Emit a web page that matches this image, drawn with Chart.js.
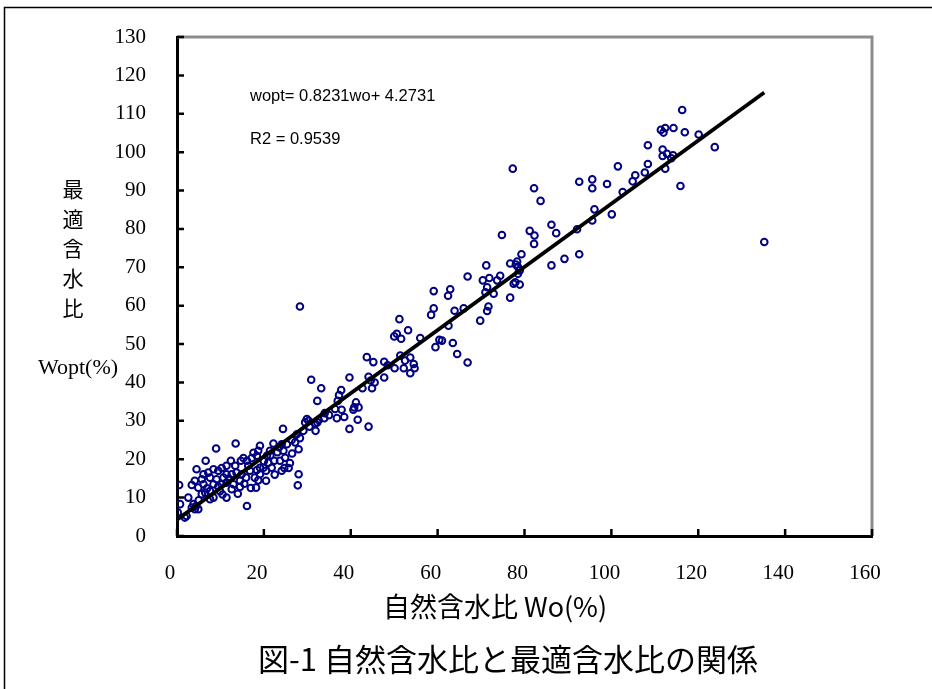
<!DOCTYPE html>
<html>
<head>
<meta charset="utf-8">
<script src="https://cdn.jsdelivr.net/npm/chart.js@4"></script>
<style>
  body { margin: 0; background: #fff; }
  #box { position: relative; width: 932px; height: 689px; }
</style>
</head>
<body>
<div id="box"><canvas id="myChart" width="932" height="689"></canvas></div>
<script>
// natural water content Wo(%) / optimum water content Wopt(%)
const woValues = [
  116.3,111.4,112.0,112.4,114.3,116.9,120.1,123.8,108.4,111.8,112.8,111.8,114.2,113.8,112.4,115.9,
  108.4,107.7,105.5,104.9,101.5,99.0,102.6,92.6,95.6,95.6,96.1,100.1,95.6,92.1,92.6,89.2,
  86.2,87.3,86.2,83.7,82.2,77.3,81.2,82.3,82.2,74.8,79.3,76.7,78.3,78.5,78.9,71.2,
  74.4,71.9,70.4,73.7,77.9,78.9,77.5,71.4,72.9,71.0,76.7,71.7,135.2,78.0,78.5,66.9,
  71.4,69.8,59.1,62.9,62.4,59.1,58.5,63.9,66.0,62.5,61.0,59.5,63.5,64.5,66.9,51.2,
  53.2,50.0,50.6,51.6,56.0,60.4,47.7,51.4,53.7,52.5,54.5,54.7,50.1,52.2,53.7,47.7,
  43.7,45.2,28.3,39.7,30.9,33.2,44.1,44.6,42.7,44.9,32.3,37.8,37.3,37.0,36.4,37.9,
  36.8,41.2,40.8,41.8,40.6,41.6,39.7,44.1,33.9,32.3,31.9,29.9,29.5,30.3,24.4,31.8,
  32.6,29.1,27.6,28.3,26.4,25.3,27.2,28.0,24.1,23.5,23.1,24.5,24.9,22.4,23.7,24.7,
  25.7,24.1,28.0,27.8,22.2,21.4,20.7,19.1,18.7,18.4,17.6,17.2,16.1,15.3,16.4,21.0,
  21.8,20.5,19.9,19.1,18.4,19.1,17.9,18.7,20.5,18.2,16.8,15.9,14.9,13.7,14.5,13.5,
  9.0,6.6,4.5,12.4,14.7,11.4,13.4,10.3,8.4,9.5,7.2,6.1,11.4,12.6,10.7,9.1,
  7.6,5.7,4.1,6.1,8.4,10.3,11.4,13.0,14.5,12.6,9.9,7.6,6.5,4.9,3.4,5.7,
  7.6,8.4,11.4,16.1,0.5,0.7,0.2,1.8,2.2,2.6,3.4,4.1,3.8,4.9,4.4,6.9,
  9.5,12.0,15.5,17.0,14.0,10.5,5.0,22.5,26.0,26.5,20.0,21.5,30.5,35.0,34.0,38.5,
  45.5,48.5
];
const woptValues = [
  111.0,105.8,105.1,106.3,106.3,105.2,104.6,101.3,101.8,100.7,99.6,99.0,99.2,98.4,95.7,91.2,
  96.9,94.7,94.0,92.4,96.3,91.7,89.6,92.3,92.9,90.6,85.1,83.8,82.2,79.9,73.4,72.2,
  70.5,78.9,81.1,87.3,90.6,95.7,79.5,78.3,76.1,78.4,73.4,71.0,71.5,70.1,69.2,70.5,
  67.8,67.2,66.6,66.6,66.1,65.5,65.7,64.8,63.1,63.5,62.1,59.8,76.6,70.7,68.3,67.6,
  58.6,56.1,63.8,64.3,62.6,59.3,57.6,58.7,59.3,54.8,50.9,49.2,50.3,47.4,45.2,56.5,
  53.6,52.0,52.7,51.4,51.6,51.1,45.4,47.0,46.5,45.7,44.8,43.7,43.7,43.7,42.4,41.3,
  46.6,45.3,59.8,41.3,40.7,38.5,41.5,40.5,38.5,38.5,35.2,38.0,36.7,35.2,33.1,32.9,
  30.7,34.8,33.5,33.5,32.9,30.3,27.9,28.5,30.7,29.6,27.4,30.5,29.6,30.0,27.9,29.3,
  30.2,27.4,26.5,25.5,25.0,23.9,24.4,22.6,23.9,23.1,21.8,22.2,20.4,19.6,19.6,17.7,
  17.7,17.0,16.1,13.2,24.1,22.2,20.9,23.5,22.2,20.9,21.7,20.3,19.6,20.3,18.3,19.1,
  17.8,17.0,17.8,17.8,17.2,16.1,15.2,14.5,14.4,12.6,17.0,15.2,16.1,16.5,14.4,24.1,
  22.8,19.6,17.4,19.6,19.6,18.3,18.3,17.7,17.4,17.0,16.5,16.1,16.1,16.1,15.2,14.8,
  15.2,14.8,14.4,13.5,13.5,13.5,13.9,13.5,12.8,12.2,11.7,11.7,11.3,12.6,13.3,10.9,
  9.6,10.0,10.0,7.8,13.3,8.3,6.1,4.8,5.2,10.0,7.4,7.0,8.3,7.0,7.8,12.4,
  12.9,14.9,13.6,12.5,11.0,10.8,9.3,16.0,19.0,21.5,19.5,21.0,28.5,31.5,32.0,31.0,
  40.0,44.5
];

const xTicks = [0, 20, 40, 60, 80, 100, 120, 140, 160];
const yTicks = [0, 10, 20, 30, 40, 50, 60, 70, 80, 90, 100, 110, 120, 130];

const slope = 0.8231;
const intercept = 4.2731;
const r2 = 0.9539;

const yTitleChars = ['最', '適', '含', '水', '比'];
const yTitleUnit = 'Wopt(%)';
const xTitle = '自然含水比 Wo(%)';
const caption = '図-1 自然含水比と最適含水比の関係';

function buildPoints(xs, ys) {
  return xs.map((x, i) => ({ x: x, y: ys[i] }));
}

function trendLine(xs) {
  const xMax = Math.max(...xs);
  return [
    { x: 0, y: intercept },
    { x: xMax, y: slope * xMax + intercept }
  ];
}

const decorPlugin = {
  id: 'decor',
  beforeDatasetsDraw(chart) {
    const ctx = chart.ctx;
    const a = chart.chartArea;
    const xs = chart.scales.x;
    const ys = chart.scales.y;
    ctx.save();
    // grey top/right frame of plot area
    ctx.strokeStyle = '#8c8c8c';
    ctx.lineWidth = 3;
    ctx.beginPath();
    ctx.moveTo(a.left, a.top);
    ctx.lineTo(a.right, a.top);
    ctx.lineTo(a.right, a.bottom);
    ctx.stroke();
    // inward ticks
    ctx.strokeStyle = '#000';
    ctx.lineWidth = 2.5;
    ctx.beginPath();
    xTicks.forEach(v => {
      const px = xs.getPixelForValue(v);
      ctx.moveTo(px, a.bottom);
      ctx.lineTo(px, a.bottom - 7);
    });
    yTicks.forEach(v => {
      const py = ys.getPixelForValue(v);
      ctx.moveTo(a.left, py);
      ctx.lineTo(a.left + 7, py);
    });
    ctx.stroke();
    ctx.restore();
  },
  afterDraw(chart) {
    const ctx = chart.ctx;
    ctx.save();
    // outer figure frame
    ctx.strokeStyle = '#000';
    ctx.lineWidth = 1.5;
    ctx.beginPath();
    ctx.moveTo(4.5, 689);
    ctx.lineTo(4.5, 7.5);
    ctx.lineTo(932, 7.5);
    ctx.stroke();

    ctx.fillStyle = '#000';
    ctx.textAlign = 'left';
    ctx.textBaseline = 'alphabetic';
    ctx.font = '16.5px "Liberation Sans", Arial, sans-serif';
    ctx.fillText('wopt= ' + slope + 'wo+ ' + intercept, 250, 101);
    ctx.fillText('R2 = ' + r2, 250, 144);

    ctx.textAlign = 'center';
    ctx.textBaseline = 'middle';
    ctx.font = '21px "Noto Sans CJK JP", sans-serif';
    yTitleChars.forEach((c, i) => ctx.fillText(c, 73, 189 + i * 29.7));
    ctx.font = '22px "Liberation Serif", serif';
    ctx.fillText(yTitleUnit, 78, 368);

    ctx.font = '27px "Noto Sans CJK JP", sans-serif';
    ctx.fillText(xTitle, 495, 607);
    ctx.font = '31px "Noto Sans CJK JP", sans-serif';
    ctx.fillText(caption, 508, 659);
    ctx.restore();
  }
};

function initChart(target) {
  const data = {
    datasets: [
      {
        type: 'line',
        label: 'trend',
        data: trendLine(woValues),
        borderColor: '#000',
        borderWidth: 3.8,
        pointRadius: 0,
        fill: false,
        order: 0
      },
      {
        type: 'scatter',
        label: 'Wopt',
        data: buildPoints(woValues, woptValues),
        borderColor: '#000080',
        backgroundColor: 'rgba(255,255,255,0)',
        borderWidth: 2,
        pointRadius: 3.3,
        order: 1
      }
    ]
  };

  const config = {
    type: 'scatter',
    data: data,
    options: {
      responsive: false,
      animation: false,
      layout: { padding: { left: 0, top: 37, right: 60, bottom: 0 } },
      plugins: { legend: { display: false }, tooltip: { enabled: false } },
      scales: {
        x: {
          type: 'linear',
          min: xTicks[0],
          max: xTicks[xTicks.length - 1],
          afterBuildTicks: s => { s.ticks = xTicks.map(v => ({ value: v })); },
          afterFit: s => { s.height = 689 - 536; s.paddingLeft = 0; s.paddingRight = 0; },
          grid: { display: false, drawTicks: false },
          border: { display: true, color: '#000', width: 3 },
          ticks: { color: '#000', padding: 25, labelOffset: -7, font: { family: '"Liberation Serif", serif', size: 21 }, maxRotation: 0 }
        },
        y: {
          type: 'linear',
          min: yTicks[0],
          max: yTicks[yTicks.length - 1],
          afterBuildTicks: s => { s.ticks = yTicks.map(v => ({ value: v })); },
          afterFit: s => { s.width = 177; s.paddingTop = 0; s.paddingBottom = 0; },
          grid: { display: false, drawTicks: false },
          border: { display: true, color: '#000', width: 3 },
          ticks: { color: '#000', padding: 31, font: { family: '"Liberation Serif", serif', size: 21 } }
        }
      }
    },
    plugins: [decorPlugin]
  };

  return new Chart(target, config);
}

document.addEventListener('DOMContentLoaded', () => initChart(document.querySelector('#myChart')));
</script>
</body>
</html>
